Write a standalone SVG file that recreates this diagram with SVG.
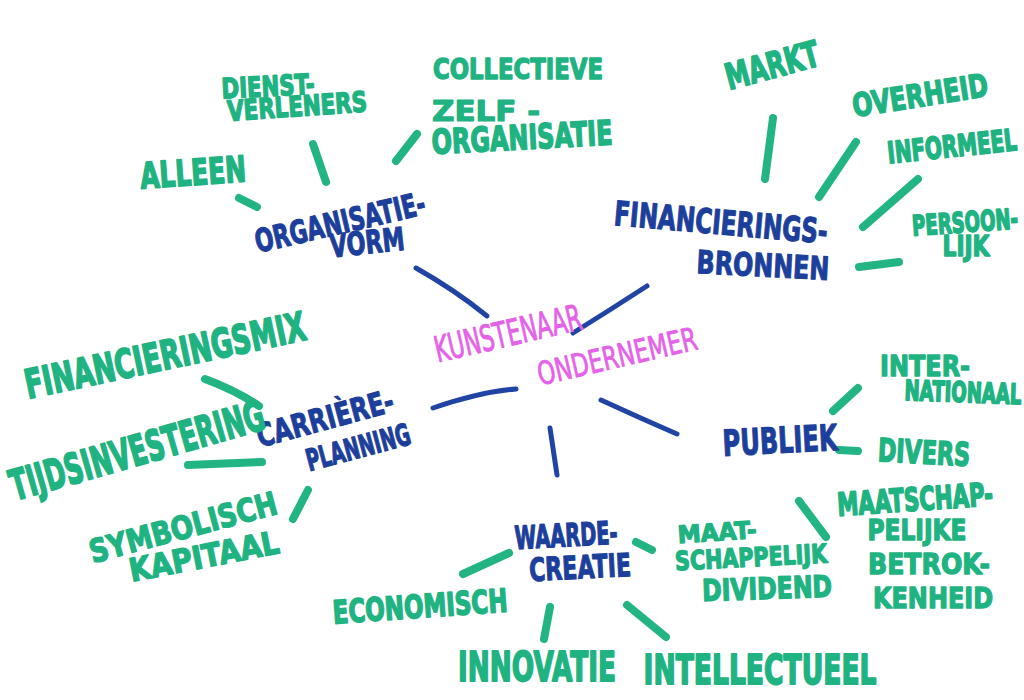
<svg xmlns="http://www.w3.org/2000/svg" width="1024" height="700" viewBox="0 0 1024 700">
<style>
text{font-family:"DejaVu Sans","Liberation Sans",sans-serif;font-weight:bold;text-anchor:middle;stroke-linejoin:round}
.g{fill:#1fb382;stroke:#1fb382;stroke-width:1.2}
.b{fill:#1d3f9c;stroke:#1d3f9c;stroke-width:0.8}
.m{fill:#e362e8;font-weight:normal;stroke:#e362e8;stroke-width:0.6}
.lg{stroke:#22b583;stroke-width:8;stroke-linecap:round;fill:none}
.lb{stroke:#1f44a3;stroke-width:5;stroke-linecap:round;fill:none}
</style>
<rect width="1024" height="700" fill="#ffffff"/>
<g id="connectors">
<path class="lg" d="M239 198 L257 207"/>
<path class="lg" d="M313 144 L326 182"/>
<path class="lg" d="M417 134 L396 161"/>
<path class="lb" d="M416 268 Q455 290 487 316"/>
<path class="lg" d="M773 118 L765 179"/>
<path class="lg" d="M856 142 L819 197"/>
<path class="lg" d="M918 179 L863 227"/>
<path class="lg" d="M859 267 L899 262"/>
<path class="lb" d="M647 286 Q610 310 573 333"/>
<path class="lb" d="M433 408 Q480 392 516 389"/>
<path class="lb" d="M601 400 Q640 418 677 434"/>
<path class="lb" d="M550 428 L557 475"/>
<path class="lg" d="M205 379 Q235 390 259 406"/>
<path class="lg" d="M188 465 L262 462"/>
<path class="lg" d="M308 490 L293 519"/>
<path class="lg" d="M858 388 L833 411"/>
<path class="lg" d="M839 450 L858 451"/>
<path class="lg" d="M799 501 L826 537"/>
<path class="lg" d="M636 542 L652 550"/>
<path class="lg" d="M463 574 L509 553"/>
<path class="lg" d="M550 607 L544 639"/>
<path class="lg" d="M627 605 L666 637"/>
</g>
<g id="center">
<text class="m" font-size="22" textLength="150" lengthAdjust="spacingAndGlyphs" x="0" y="7.9" transform="translate(508 333) rotate(-13) scale(1 1.636)">KUNSTENAAR</text>
<text class="m" font-size="22.6" textLength="163" lengthAdjust="spacingAndGlyphs" x="0" y="8.1" transform="translate(617 356) rotate(-13) scale(1 1.416)">ONDERNEMER</text>
</g>
<g id="organisatievorm">
<text class="b" font-size="21.6" textLength="174" lengthAdjust="spacingAndGlyphs" x="0" y="7.8" transform="translate(340 222) rotate(-13) scale(1 1.48)">ORGANISATIE-</text>
<text class="b" font-size="22.1" textLength="75" lengthAdjust="spacingAndGlyphs" x="0" y="8" transform="translate(367 242) rotate(-6) scale(1 1.448)">VORM</text>
</g>
<g id="dienstverleners">
<text class="g" font-size="20.5" textLength="93" lengthAdjust="spacingAndGlyphs" x="0" y="7.4" transform="translate(268 86) rotate(-3) scale(1 1.366)">DIENST-</text>
<text class="g" font-size="21.4" textLength="140" lengthAdjust="spacingAndGlyphs" x="0" y="7.7" transform="translate(297 106) rotate(-4) scale(1 1.308)">VERLENERS</text>
</g>
<g id="alleen">
<text class="g" font-size="24.9" textLength="106" lengthAdjust="spacingAndGlyphs" x="0" y="9" transform="translate(193 172) rotate(-4) scale(1 1.446)">ALLEEN</text>
</g>
<g id="collectieve">
<text class="g" font-size="22.8" textLength="170" lengthAdjust="spacingAndGlyphs" x="0" y="8.2" transform="translate(518 69) scale(1 1.228)">COLLECTIEVE</text>
<text class="g" font-size="28" textLength="108" lengthAdjust="spacingAndGlyphs" x="0" y="10.1" transform="translate(486 111)">ZELF -</text>
<text class="g" font-size="23.6" textLength="181" lengthAdjust="spacingAndGlyphs" x="0" y="8.5" transform="translate(522 137) rotate(-3) scale(1 1.44)">ORGANISATIE</text>
</g>
<g id="financieringsbronnen">
<text class="b" font-size="23.2" textLength="214" lengthAdjust="spacingAndGlyphs" x="0" y="8.4" transform="translate(721 222) rotate(5) scale(1 1.466)">FINANCIERINGS-</text>
<text class="b" font-size="23.9" textLength="133" lengthAdjust="spacingAndGlyphs" x="0" y="8.6" transform="translate(763 265) rotate(3) scale(1 1.339)">BRONNEN</text>
</g>
<g id="markt">
<text class="g" font-size="24" textLength="96" lengthAdjust="spacingAndGlyphs" x="0" y="8.6" transform="translate(772 65) rotate(-15) scale(1 1.5)">MARKT</text>
</g>
<g id="overheid">
<text class="g" font-size="23.6" textLength="137" lengthAdjust="spacingAndGlyphs" x="0" y="8.5" transform="translate(920 95) rotate(-9) scale(1 1.356)">OVERHEID</text>
</g>
<g id="informeel">
<text class="g" font-size="20" textLength="130" lengthAdjust="spacingAndGlyphs" x="0" y="7.2" transform="translate(952 146) rotate(-6) scale(1 1.5)">INFORMEEL</text>
</g>
<g id="persoonlijk">
<text class="g" font-size="18.1" textLength="106" lengthAdjust="spacingAndGlyphs" x="0" y="6.5" transform="translate(965 222) rotate(-4) scale(1 1.547)">PERSOON-</text>
<text class="g" font-size="21.8" textLength="47" lengthAdjust="spacingAndGlyphs" x="0" y="7.8" transform="translate(966 246) scale(1 1.284)">LIJK</text>
</g>
<g id="carriereplanning">
<text class="b" font-size="23.6" textLength="141" lengthAdjust="spacingAndGlyphs" x="0" y="8.5" transform="translate(325 418) rotate(-15) scale(1 1.356)">CARRIÈRE-</text>
<text class="b" font-size="18.3" textLength="107" lengthAdjust="spacingAndGlyphs" x="0" y="6.6" transform="translate(358 447) rotate(-15) scale(1 1.639)">PLANNING</text>
</g>
<g id="financieringsmix">
<text class="g" font-size="25" textLength="286" lengthAdjust="spacingAndGlyphs" x="0" y="9" transform="translate(165 355) rotate(-12) scale(1 1.6)">FINANCIERINGSMIX</text>
</g>
<g id="tijdsinvestering">
<text class="g" font-size="25" textLength="263" lengthAdjust="spacingAndGlyphs" x="0" y="9" transform="translate(137 450) rotate(-16) scale(1 1.68)">TIJDSINVESTERING</text>
</g>
<g id="symbolischkapitaal">
<text class="g" font-size="26.3" textLength="193" lengthAdjust="spacingAndGlyphs" x="0" y="9.5" transform="translate(183 527) rotate(-15) scale(1 1.217)">SYMBOLISCH</text>
<text class="g" font-size="27.5" textLength="152" lengthAdjust="spacingAndGlyphs" x="0" y="9.9" transform="translate(204 556) rotate(-11) scale(1 1.164)">KAPITAAL</text>
</g>
<g id="publiek">
<text class="b" font-size="24.1" textLength="115" lengthAdjust="spacingAndGlyphs" x="0" y="8.7" transform="translate(780 440) rotate(-3) scale(1 1.494)">PUBLIEK</text>
</g>
<g id="internationaal">
<text class="g" font-size="23.9" textLength="90" lengthAdjust="spacingAndGlyphs" x="0" y="8.6" transform="translate(925 366) scale(1 1.172)">INTER-</text>
<text class="g" font-size="17.9" textLength="117" lengthAdjust="spacingAndGlyphs" x="0" y="6.4" transform="translate(963 392) rotate(2) scale(1 1.564)">NATIONAAL</text>
</g>
<g id="divers">
<text class="g" font-size="22.2" textLength="92" lengthAdjust="spacingAndGlyphs" x="0" y="8" transform="translate(924 452) rotate(3) scale(1 1.441)">DIVERS</text>
</g>
<g id="maatschappelijkebetrokkenheid">
<text class="g" font-size="21" textLength="156" lengthAdjust="spacingAndGlyphs" x="0" y="7.6" transform="translate(915 499) rotate(-4) scale(1 1.524)">MAATSCHAP-</text>
<text class="g" font-size="23.3" textLength="99" lengthAdjust="spacingAndGlyphs" x="0" y="8.4" transform="translate(917 530) scale(1 1.245)">PELIJKE</text>
<text class="g" font-size="24.7" textLength="122" lengthAdjust="spacingAndGlyphs" x="0" y="8.9" transform="translate(929 564) scale(1 1.134)">BETROK-</text>
<text class="g" font-size="23.9" textLength="120" lengthAdjust="spacingAndGlyphs" x="0" y="8.6" transform="translate(933 598) scale(1 1.172)">KENHEID</text>
</g>
<g id="waardecreatie">
<text class="b" font-size="19.3" textLength="103" lengthAdjust="spacingAndGlyphs" x="0" y="6.9" transform="translate(566 535) rotate(-3) scale(1 1.658)">WAARDE-</text>
<text class="b" font-size="21.7" textLength="102" lengthAdjust="spacingAndGlyphs" x="0" y="7.8" transform="translate(580 567) rotate(-3) scale(1 1.475)">CREATIE</text>
</g>
<g id="maatschappelijkdividend">
<text class="g" font-size="21.7" textLength="79" lengthAdjust="spacingAndGlyphs" x="0" y="7.8" transform="translate(717 532) rotate(-4) scale(1 1.106)">MAAT-</text>
<text class="g" font-size="20.6" textLength="152" lengthAdjust="spacingAndGlyphs" x="0" y="7.4" transform="translate(751 557) rotate(-3) scale(1 1.262)">SCHAPPELIJK</text>
<text class="g" font-size="23.5" textLength="130" lengthAdjust="spacingAndGlyphs" x="0" y="8.5" transform="translate(767 588) rotate(-2) scale(1 1.277)">DIVIDEND</text>
</g>
<g id="economisch">
<text class="g" font-size="23" textLength="175" lengthAdjust="spacingAndGlyphs" x="0" y="8.3" transform="translate(420 606) rotate(-4) scale(1 1.391)">ECONOMISCH</text>
</g>
<g id="innovatie">
<text class="g" font-size="25.6" textLength="158" lengthAdjust="spacingAndGlyphs" x="0" y="9.2" transform="translate(537 667) scale(1 1.5625)">INNOVATIE</text>
</g>
<g id="intellectueel">
<text class="g" font-size="24.8" textLength="233" lengthAdjust="spacingAndGlyphs" x="0" y="8.9" transform="translate(760 670) scale(1 1.613)">INTELLECTUEEL</text>
</g>
</svg>
